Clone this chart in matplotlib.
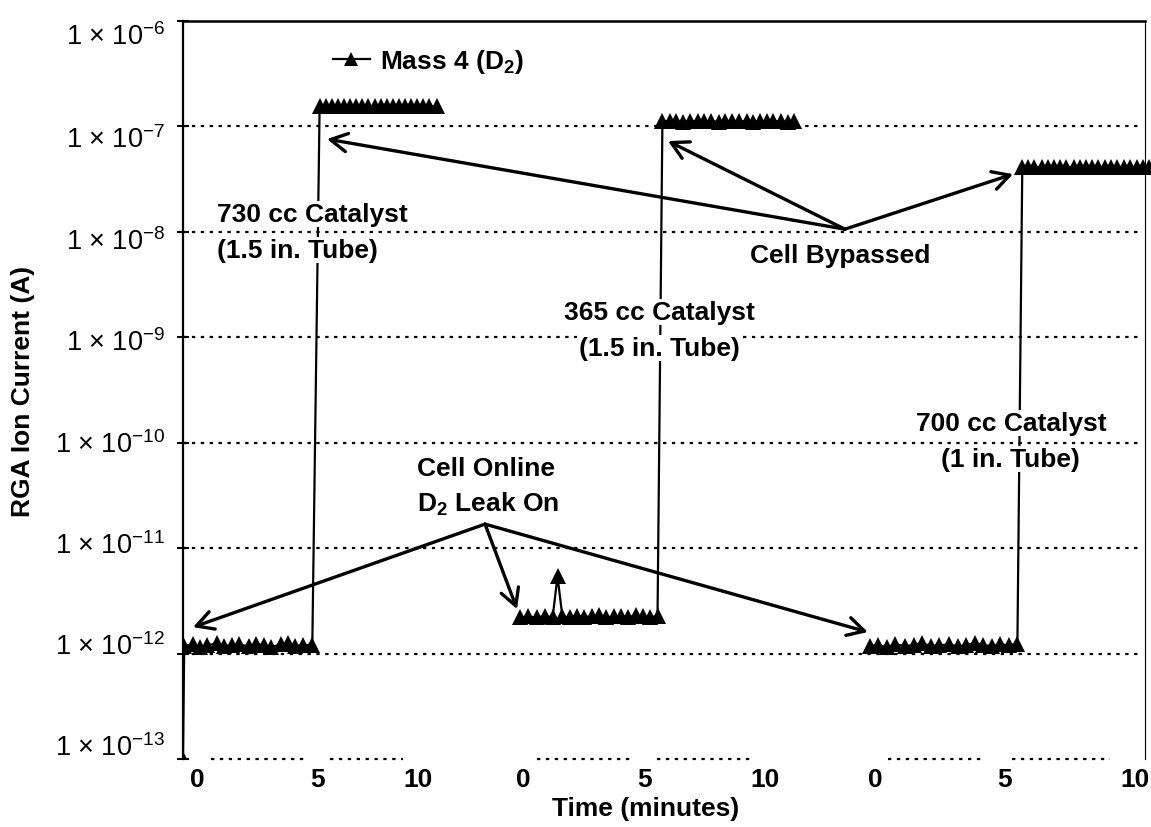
import matplotlib
matplotlib.use("Agg")
import matplotlib.pyplot as plt
import matplotlib.transforms as mtransforms
import numpy as np

# sample times (minutes, shared axis) and RGA mass-4 ion current (A)
run1_t = [0.0, 0.05, 0.4, 0.7, 1.0, 1.4, 1.7, 2.0, 2.3, 2.7, 3.0, 3.3, 3.6, 4.0, 4.3, 4.6, 4.9, 5.3,
          5.6, 5.85, 6.1, 6.35, 6.6, 6.85, 7.1, 7.35, 7.6, 7.85, 8.1, 8.35, 8.6, 8.85, 9.1, 9.35,
          9.6, 9.85, 10.1, 10.4]
run1_i = [1e-13, 1.18e-12, 1.22e-12, 1.15e-12, 1.2e-12, 1.25e-12, 1.18e-12, 1.2e-12, 1.22e-12,
          1.17e-12, 1.24e-12, 1.2e-12, 1.15e-12, 1.22e-12, 1.26e-12, 1.18e-12, 1.2e-12, 1.21e-12,
          1.57e-7, 1.55e-7, 1.56e-7, 1.57e-7, 1.56e-7, 1.55e-7, 1.57e-7, 1.56e-7, 1.56e-7, 1.55e-7,
          1.57e-7, 1.56e-7, 1.56e-7, 1.57e-7, 1.55e-7, 1.56e-7, 1.56e-7, 1.57e-7, 1.56e-7, 1.55e-7]

run2_t = [13.8, 14.15, 14.5, 14.85, 15.15, 15.35, 15.55, 15.85, 16.15, 16.45, 16.75, 17.05, 17.35,
          17.65, 17.95, 18.25, 18.55, 18.85, 19.15, 19.45,
          19.65, 19.95, 20.2, 20.5, 20.8, 21.1, 21.35, 21.65, 21.95, 22.2, 22.5, 22.8, 23.1, 23.35,
          23.65, 23.95, 24.2, 24.5, 24.8, 25.05]
run2_i = [2.2e-12, 2.25e-12, 2.2e-12, 2.28e-12, 2.2e-12, 5.4e-12, 2.25e-12, 2.2e-12, 2.28e-12,
          2.22e-12, 2.25e-12, 2.3e-12, 2.2e-12, 2.25e-12, 2.28e-12, 2.22e-12, 2.3e-12, 2.25e-12,
          2.2e-12, 2.28e-12,
          1.12e-7, 1.13e-7, 1.12e-7, 1.11e-7, 1.12e-7, 1.13e-7, 1.12e-7, 1.12e-7, 1.11e-7, 1.12e-7,
          1.13e-7, 1.12e-7, 1.12e-7, 1.11e-7, 1.12e-7, 1.13e-7, 1.12e-7, 1.12e-7, 1.11e-7, 1.12e-7]

run3_t = [28.15, 28.5, 28.85, 29.2, 29.6, 29.95, 30.3, 30.65, 31.0, 31.4, 31.75, 32.1, 32.45, 32.8,
          33.15, 33.5, 33.85, 34.2,
          34.4, 34.65, 34.9, 35.2, 35.45, 35.7, 35.95, 36.2, 36.5, 36.75, 37.0, 37.25, 37.5, 37.8,
          38.05, 38.3, 38.55, 38.8, 39.1, 39.35, 39.6]
run3_i = [1.18e-12, 1.2e-12, 1.15e-12, 1.22e-12, 1.18e-12, 1.2e-12, 1.25e-12, 1.18e-12, 1.2e-12,
          1.22e-12, 1.17e-12, 1.2e-12, 1.26e-12, 1.2e-12, 1.18e-12, 1.22e-12, 1.2e-12, 1.24e-12,
          4.1e-8, 4.12e-8, 4.08e-8, 4.1e-8, 4.1e-8, 4.12e-8, 4.1e-8, 4.08e-8, 4.1e-8, 4.1e-8,
          4.12e-8, 4.1e-8, 4.08e-8, 4.1e-8, 4.1e-8, 4.12e-8, 4.1e-8, 4.1e-8, 4.08e-8, 4.1e-8, 4.1e-8]

tick_pos = [0.57, 5.53, 9.63, 13.93, 18.93, 23.85, 28.36, 33.69, 39.02]
tick_lab = ['0', '5', '10', '0', '5', '10', '0', '5', '10']
decades = [-13, -12, -11, -10, -9, -8, -7, -6]
axis_dots = [(1.15, 5.0), (6.02, 9.02), (14.51, 18.4), (19.43, 23.24), (28.89, 32.87), (33.98, 37.99)]
# the y labels sit on a slightly tighter pitch than the gridlines (px, down = +)
ylab_shift = [-12, -7, -3, 1, 5, 9, 13, 15]

plt.rcParams['mathtext.fontset'] = 'custom'
plt.rcParams['mathtext.rm'] = 'Liberation Sans'
plt.rcParams['font.family'] = ['Liberation Sans', 'DejaVu Sans']

fig = plt.figure(figsize=(11.51, 8.28), dpi=100)
W, H = 1151, 828
ax = fig.add_axes([183 / W, 1 - 760 / H, (1145 - 183) / W, (760 - 22) / H])
ax.set_yscale('log')
ax.set_ylim(1e-13, 1e-6)
ax.set_xlim(0, 39.43)

style = dict(color='black', lw=1.6, marker='^', ms=12, mew=0, zorder=3)
ax.plot(run1_t, run1_i, label=r'Mass 4 (D$\mathregular{_2}$)', **style)
ax.plot(run2_t, run2_i, **style)
ax.plot(run3_t, run3_i, clip_on=False, **style)

dots = dict(color='black', lw=1.6, ls=(0, (1.5, 2.5)), zorder=1)
for d in decades[1:-1]:
    ax.axhline(10.0 ** d, xmin=0, xmax=0.995, **dots)
for a, b in axis_dots:
    ax.plot([a, b], [1e-13, 1e-13], clip_on=False, **dots)

ax.spines['bottom'].set_visible(False)
ax.spines['left'].set_linewidth(1.6)
ax.spines['top'].set_linewidth(1.8)
ax.spines['right'].set_linewidth(0.8)

ax.set_yticks([10.0 ** d for d in decades])
ax.set_yticklabels(['1 × 10$^{%d}$' % d for d in decades], fontsize=19.5, va='center')
ax.yaxis.set_minor_locator(matplotlib.ticker.NullLocator())
ax.tick_params(axis='y', direction='inout', length=8, width=1.5, pad=9)
for lab, s in zip(ax.get_yticklabels(), ylab_shift):
    lab.set_transform(lab.get_transform() + mtransforms.ScaledTranslation(0, -s / 100, fig.dpi_scale_trans))
ax.set_xticks(tick_pos)
ax.set_xticklabels(tick_lab, fontsize=19, fontweight='bold')
ax.tick_params(axis='x', length=0, pad=6)

ax.set_ylabel('RGA Ion Current (A)', fontsize=19, fontweight='bold')
ax.yaxis.set_label_coords(-0.154, 0.5)
ax.set_xlabel('Time (minutes)', fontsize=19, fontweight='bold')
ax.xaxis.set_label_coords(0.481, -0.050)

ax.legend(loc='center left', bbox_to_anchor=(333 / W, 1 - 62 / H), bbox_transform=fig.transFigure,
          frameon=False, handlelength=1.4, handletextpad=0.4, borderpad=0, markerscale=0.85,
          borderaxespad=0, prop=dict(weight='bold', size=19))

arrow = dict(arrowstyle='->,head_length=0.55,head_width=0.3', lw=2.4, color='black',
             shrinkA=0, shrinkB=0, mutation_scale=22)
for tip in [(5.90, 7.59e-8), (19.88, 7.27e-8), (34.02, 3.53e-8)]:
    ax.annotate('', xy=tip, xytext=(27.13, 1.06e-8), arrowprops=arrow, zorder=4)
for tip in [(0.41, 1.78e-12), (13.69, 2.64e-12), (28.07, 1.6e-12)]:
    ax.annotate('', xy=tip, xytext=(12.38, 1.69e-11), arrowprops=arrow, zorder=4)

txt = dict(fontsize=19, fontweight='bold', va='baseline', zorder=5)
box = dict(facecolor='white', edgecolor='none', pad=1)
ax.text(26.93, 5.17e-9, 'Cell Bypassed', ha='center', **txt)
ax.text(9.59, 4.93e-11, 'Cell Online', ha='left', **txt)
ax.text(9.59, 2.24e-11, r'D$\mathregular{_2}$ Leak On', ha='left', **txt)
ax.text(1.39, 1.27e-8, '730 cc Catalyst', ha='left', bbox=box, **txt)
ax.text(1.39, 5.77e-9, '(1.5 in. Tube)', ha='left', bbox=box, **txt)
ax.text(19.51, 1.49e-9, '365 cc Catalyst', ha='center', bbox=box, **txt)
ax.text(19.51, 6.78e-10, '(1.5 in. Tube)', ha='center', bbox=box, **txt)
ax.text(33.93, 1.32e-10, '700 cc Catalyst', ha='center', bbox=box, **txt)
ax.text(33.93, 6.0e-11, '(1 in. Tube)', ha='center', bbox=box, **txt)

fig.savefig('out.png', dpi=100)
